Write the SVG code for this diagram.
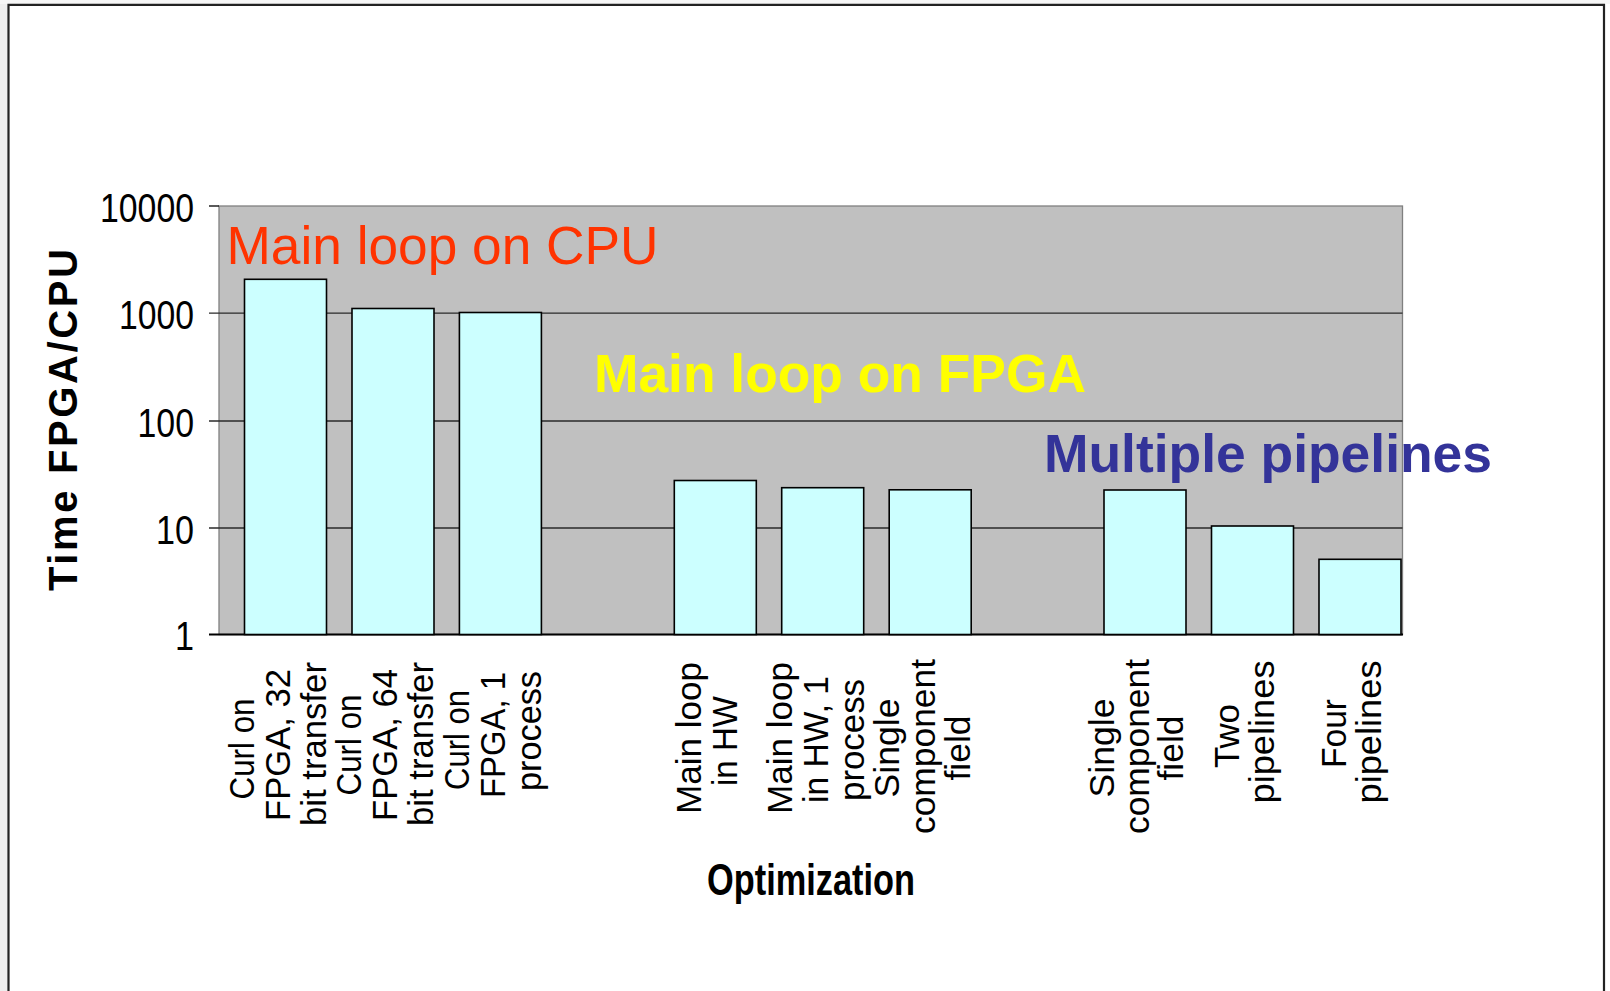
<svg xmlns="http://www.w3.org/2000/svg" width="1610" height="991" viewBox="0 0 1610 991">
<style>
.num{font-family:"Liberation Sans Narrow","Liberation Sans",Arial,sans-serif;font-size:41px;fill:#000;text-anchor:end}
.cat{font-family:"Liberation Sans Narrow","Liberation Sans",Arial,sans-serif;font-size:35px;fill:#000;text-anchor:middle}
.bar{fill:#CCFFFF;stroke:#000;stroke-width:1.6}
.grid{stroke:#2a2a2a;stroke-width:1.3}
.ann{font-family:"Liberation Sans",Arial,sans-serif;font-size:53px}
</style>
<rect x="0" y="0" width="1610" height="991" fill="#ffffff"/>
<rect x="0" y="0" width="8" height="991" fill="#EEEEEE"/>
<rect x="0" y="0" width="1610" height="4" fill="#F6F6F6"/>
<g id="frame" fill="none" stroke="#222" stroke-width="2.2">
<path d="M8.5 991 V4.8 H1604 V991"/>
</g>
<g id="plot">
<rect x="219" y="206" width="1183.5" height="428.5" fill="#C0C0C0" stroke="#808080" stroke-width="1.3"/>
<line class="grid" x1="209" y1="313.2" x2="1402.5" y2="313.2"/>
<line class="grid" x1="209" y1="421" x2="1402.5" y2="421"/>
<line class="grid" x1="209" y1="528" x2="1402.5" y2="528"/>
<line stroke="#000" stroke-width="1.3" x1="209" y1="206" x2="219" y2="206"/>
<line stroke="#000" stroke-width="1.8" x1="209" y1="634.5" x2="1403" y2="634.5"/>
</g>
<g id="yaxis-labels">
<text class="num" x="194" y="221.7" textLength="94" lengthAdjust="spacingAndGlyphs">10000</text>
<text class="num" x="194" y="328.5" textLength="75" lengthAdjust="spacingAndGlyphs">1000</text>
<text class="num" x="194" y="437" textLength="56.5" lengthAdjust="spacingAndGlyphs">100</text>
<text class="num" x="194" y="544" textLength="38" lengthAdjust="spacingAndGlyphs">10</text>
<text class="num" x="194" y="650" textLength="19" lengthAdjust="spacingAndGlyphs">1</text>
</g>
<g id="bars">
<rect class="bar" x="244.5" y="279.3" width="82" height="355.2"/>
<rect class="bar" x="352" y="308.5" width="82" height="326"/>
<rect class="bar" x="459.4" y="312.5" width="82" height="322"/>
<rect class="bar" x="674.3" y="480.5" width="82" height="154"/>
<rect class="bar" x="781.7" y="487.7" width="82" height="146.8"/>
<rect class="bar" x="889.2" y="489.8" width="82" height="144.7"/>
<rect class="bar" x="1104" y="490" width="82" height="144.5"/>
<rect class="bar" x="1211.5" y="526" width="82" height="108.5"/>
<rect class="bar" x="1319" y="559.3" width="82" height="75.2"/>
</g>
<g id="category-labels">
<text class="cat" transform="translate(253.5,749) rotate(-90)" textLength="101" lengthAdjust="spacingAndGlyphs">Curl on</text>
<text class="cat" transform="translate(290,745) rotate(-90)" textLength="152" lengthAdjust="spacingAndGlyphs">FPGA, 32</text>
<text class="cat" transform="translate(326,744) rotate(-90)" textLength="164" lengthAdjust="spacingAndGlyphs">bit transfer</text>
<text class="cat" transform="translate(360.5,745) rotate(-90)" textLength="101" lengthAdjust="spacingAndGlyphs">Curl on</text>
<text class="cat" transform="translate(397,745) rotate(-90)" textLength="152" lengthAdjust="spacingAndGlyphs">FPGA, 64</text>
<text class="cat" transform="translate(433,744) rotate(-90)" textLength="164" lengthAdjust="spacingAndGlyphs">bit transfer</text>
<text class="cat" transform="translate(469,740) rotate(-90)" textLength="100" lengthAdjust="spacingAndGlyphs">Curl on</text>
<text class="cat" transform="translate(505,735) rotate(-90)" textLength="126" lengthAdjust="spacingAndGlyphs">FPGA, 1</text>
<text class="cat" transform="translate(541,731) rotate(-90)" textLength="120" lengthAdjust="spacingAndGlyphs">process</text>
<text class="cat" transform="translate(700.5,738) rotate(-90)" textLength="152" lengthAdjust="spacingAndGlyphs">Main loop</text>
<text class="cat" transform="translate(736.5,741) rotate(-90)" textLength="90" lengthAdjust="spacingAndGlyphs">in HW</text>
<text class="cat" transform="translate(791.5,738) rotate(-90)" textLength="152" lengthAdjust="spacingAndGlyphs">Main loop</text>
<text class="cat" transform="translate(828,739.5) rotate(-90)" textLength="127" lengthAdjust="spacingAndGlyphs">in HW, 1</text>
<text class="cat" transform="translate(863.5,740) rotate(-90)" textLength="122" lengthAdjust="spacingAndGlyphs">process</text>
<text class="cat" transform="translate(898.5,748) rotate(-90)" textLength="99" lengthAdjust="spacingAndGlyphs">Single</text>
<text class="cat" transform="translate(934.5,746.5) rotate(-90)" textLength="175" lengthAdjust="spacingAndGlyphs">component</text>
<text class="cat" transform="translate(969.5,748) rotate(-90)" textLength="65" lengthAdjust="spacingAndGlyphs">field</text>
<text class="cat" transform="translate(1113.5,748) rotate(-90)" textLength="99" lengthAdjust="spacingAndGlyphs">Single</text>
<text class="cat" transform="translate(1149,746.5) rotate(-90)" textLength="175" lengthAdjust="spacingAndGlyphs">component</text>
<text class="cat" transform="translate(1183,748) rotate(-90)" textLength="65" lengthAdjust="spacingAndGlyphs">field</text>
<text class="cat" transform="translate(1238.5,736) rotate(-90)" textLength="64" lengthAdjust="spacingAndGlyphs">Two</text>
<text class="cat" transform="translate(1274,732) rotate(-90)" textLength="143" lengthAdjust="spacingAndGlyphs">pipelines</text>
<text class="cat" transform="translate(1346,733.5) rotate(-90)" textLength="69" lengthAdjust="spacingAndGlyphs">Four</text>
<text class="cat" transform="translate(1381,732) rotate(-90)" textLength="143" lengthAdjust="spacingAndGlyphs">pipelines</text>
</g>
<g id="axis-titles">
<text transform="translate(77,420) rotate(-90)" font-family="'Liberation Sans',Arial,sans-serif" font-weight="bold" font-size="40" text-anchor="middle" textLength="342" lengthAdjust="spacing">Time FPGA/CPU</text>
<text x="707" y="895" font-family="'Liberation Sans Narrow','Liberation Sans',Arial,sans-serif" font-weight="bold" font-size="44" textLength="208" lengthAdjust="spacingAndGlyphs">Optimization</text>
</g>
<g id="annotations">
<text class="ann" x="226.5" y="263.5" fill="#FF3300" textLength="432" lengthAdjust="spacingAndGlyphs">Main loop on CPU</text>
<text class="ann" x="594" y="391.5" fill="#FFFF00" font-weight="bold" textLength="492" lengthAdjust="spacingAndGlyphs">Main loop on FPGA</text>
<text class="ann" x="1044" y="472" fill="#333399" font-weight="bold" textLength="448" lengthAdjust="spacingAndGlyphs">Multiple pipelines</text>
</g>
</svg>
